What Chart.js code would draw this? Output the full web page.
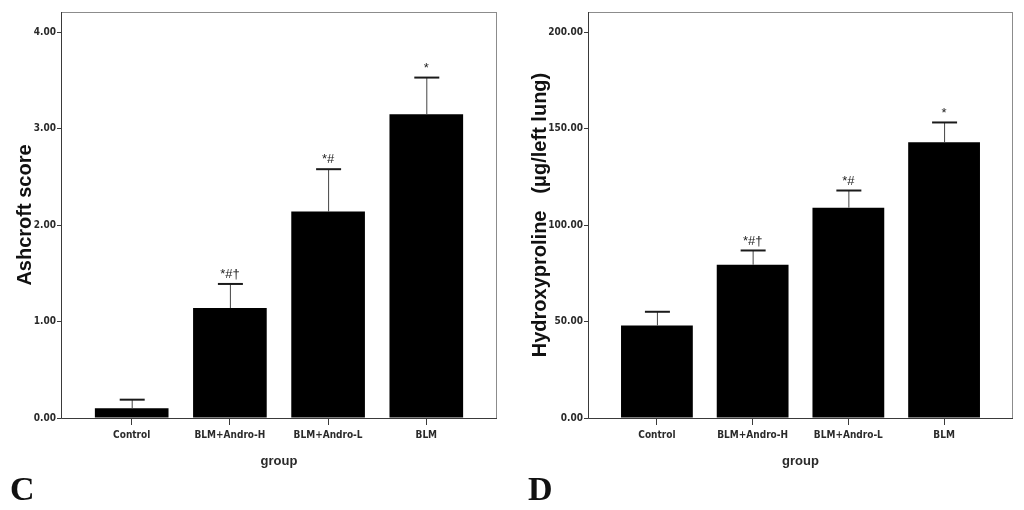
<!DOCTYPE html>
<html>
<head>
<meta charset="utf-8">
<script src="https://cdn.jsdelivr.net/npm/chart.js@4.4.0/dist/chart.umd.min.js"></script>
<style>
  html, body { margin: 0; padding: 0; background: #fff; }
  .panel { position: absolute; top: 0; width: 512px; height: 510px; }
  #panelC { left: 0; }
  #panelD { left: 512px; }
</style>
</head>
<body>
<div class="panel" id="panelC"><canvas id="chartC" width="512" height="510"></canvas></div>
<div class="panel" id="panelD"><canvas id="chartD" width="512" height="510"></canvas></div>
<script>
/* ===== data ===== */
const groups = ['Control', 'BLM+Andro-H', 'BLM+Andro-L', 'BLM'];
const marks = ['', '*#\u2020', '*#', '*'];

const ashcroftMean = [0.10, 1.14, 2.14, 3.15];
const ashcroftErr = [0.09, 0.25, 0.44, 0.38];
const ashcroftTicks = [0, 1, 2, 3, 4];

const hypMean = [48.0, 79.5, 109.1, 143.0];
const hypErr = [7.1, 7.4, 8.9, 10.3];
const hypTicks = [0, 50, 100, 150, 200];

const TICK_FONT = { family: '"Liberation Sans Narrow", "DejaVu Sans Condensed", "Liberation Sans", sans-serif', size: 10, weight: 'bold' };

/* ---------- frame, error bars, marks, panel letter ---------- */
const extras = {
  id: 'extras',
  afterDatasetsDraw(chart, args, opts) {
    const { ctx, chartArea: a, scales: { x, y } } = chart;
    ctx.save();

    // grey frame round the plot
    ctx.strokeStyle = '#8c8c8c';
    ctx.lineWidth = 1;
    ctx.strokeRect(a.left + 0.5, a.top + 0.5, a.right - a.left - 1, a.bottom - a.top);

    // axis lines
    ctx.strokeStyle = '#3a3a3a';
    ctx.beginPath();
    ctx.moveTo(a.left + 0.5, a.top);
    ctx.lineTo(a.left + 0.5, a.bottom + 0.5);
    ctx.lineTo(a.right, a.bottom + 0.5);
    ctx.stroke();

    opts.mean.forEach((m, i) => {
      const cx = x.getPixelForValue(i);
      const yBar = y.getPixelForValue(m);
      const yTop = y.getPixelForValue(m + opts.err[i]);

      ctx.strokeStyle = '#444';
      ctx.lineWidth = 1;
      ctx.beginPath();
      ctx.moveTo(cx + 0.5, yBar);
      ctx.lineTo(cx + 0.5, yTop);
      ctx.stroke();

      ctx.strokeStyle = '#1a1a1a';
      ctx.lineWidth = 2;
      ctx.beginPath();
      ctx.moveTo(cx - 12, yTop);
      ctx.lineTo(cx + 13, yTop);
      ctx.stroke();

      if (marks[i]) {
        ctx.fillStyle = '#222';
        ctx.font = '13px "Liberation Sans", sans-serif';
        ctx.textAlign = 'center';
        ctx.textBaseline = 'bottom';
        ctx.fillText(marks[i], cx, yTop - 3);
      }
    });

    ctx.fillStyle = '#111';
    ctx.font = 'bold 34px "Liberation Serif", serif';
    ctx.textAlign = 'left';
    ctx.textBaseline = 'alphabetic';
    ctx.fillText(opts.letter, opts.letterX, 500);
    ctx.restore();
  }
};

function makePanel(canvasId, cfg) {
  const ctx = document.getElementById(canvasId).getContext('2d');
  return new Chart(ctx, {
    type: 'bar',
    data: {
      datasets: [{
        data: cfg.mean.map((v, i) => ({ x: i, y: v })),
        backgroundColor: '#000',
        borderWidth: 0,
        barPercentage: 0.75,
        categoryPercentage: 1.0
      }]
    },
    options: {
      responsive: false,
      animation: false,
      layout: { padding: { top: 12, right: cfg.rightPad, left: 0, bottom: 0 } },
      plugins: {
        legend: { display: false },
        tooltip: { enabled: false },
        extras: { mean: cfg.mean, err: cfg.err, letter: cfg.letter, letterX: cfg.letterX }
      },
      scales: {
        x: {
          type: 'linear',
          offset: false,
          min: -0.72,
          max: 3.72,
          afterBuildTicks: s => { s.ticks = groups.map((g, i) => ({ value: i })); },
          afterFit: s => { s.height = 92; },
          grid: { offset: false, drawOnChartArea: false, drawTicks: true, tickLength: 7, color: '#3a3a3a' },
          border: { display: false },
          ticks: {
            autoSkip: false,
            maxRotation: 0,
            padding: 4,
            color: '#2a2a2a',
            font: TICK_FONT,
            callback: v => groups[v]
          },
          title: {
            display: true,
            text: 'group',
            color: '#2a2a2a',
            font: { family: '"Liberation Sans", sans-serif', size: 13, weight: 'bold' },
            padding: { top: 0, bottom: 41 }
          }
        },
        y: {
          min: 0,
          max: cfg.yMax,
          afterBuildTicks: s => { s.ticks = cfg.ticks.map(v => ({ value: v })); },
          afterFit: s => { s.width = cfg.yWidth; },
          grid: { drawOnChartArea: false, drawTicks: true, tickLength: 4, color: '#3a3a3a' },
          border: { display: false },
          ticks: {
            padding: 1,
            color: '#2a2a2a',
            font: TICK_FONT,
            callback: v => Number(v).toFixed(2)
          },
          title: {
            display: true,
            text: cfg.yTitle,
            color: '#111',
            font: { family: '"Liberation Sans", sans-serif', size: 20, weight: 'bold' },
            padding: { top: cfg.titlePad, bottom: 0 }
          }
        }
      }
    },
    plugins: [extras]
  });
}

makePanel('chartC', {
  mean: ashcroftMean, err: ashcroftErr, ticks: ashcroftTicks,
  yMax: 4.21, yWidth: 61, rightPad: 15, titlePad: 13,
  yTitle: 'Ashcroft score', letter: 'C', letterX: 10
});

makePanel('chartD', {
  mean: hypMean, err: hypErr, ticks: hypTicks,
  yMax: 210.6, yWidth: 76, rightPad: 11, titlePad: 16,
  yTitle: 'Hydroxyproline   (\u03bcg/left lung)', letter: 'D', letterX: 16
});
</script>
</body>
</html>
